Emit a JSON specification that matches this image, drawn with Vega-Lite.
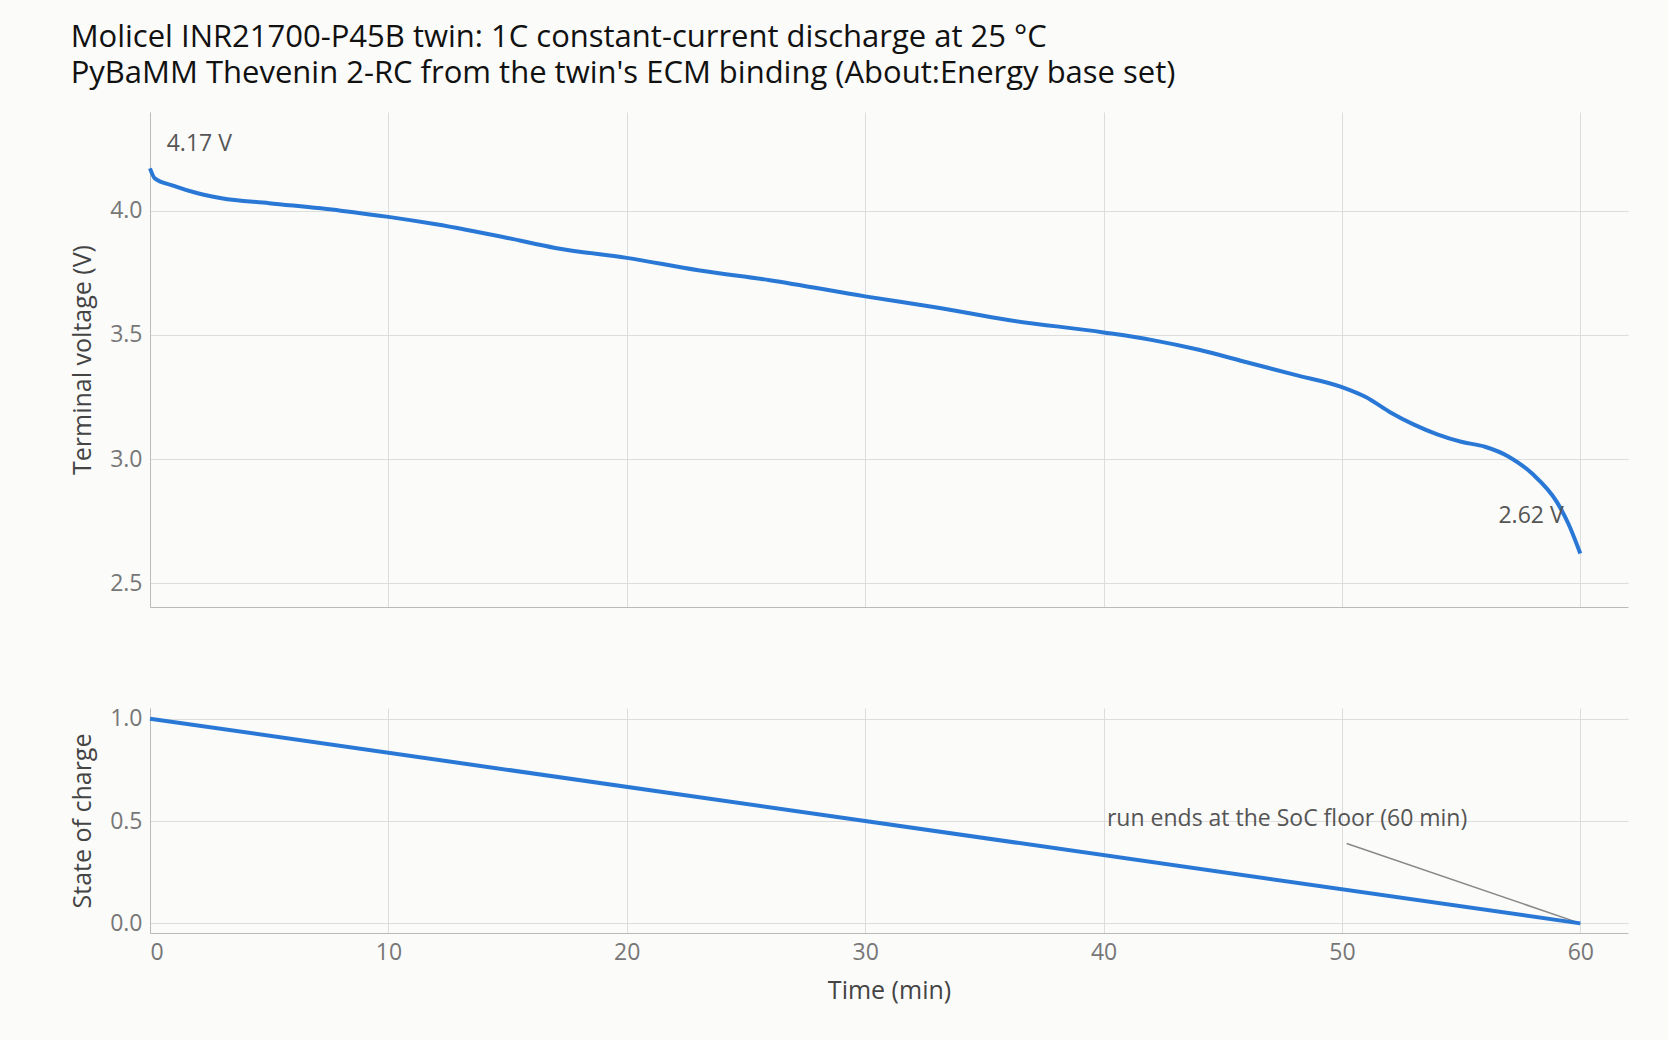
{
  "$schema": "https://vega.github.io/schema/vega-lite/v6.json",
  "background": "#fbfbfa",
  "padding": {"left": 70, "top": 22, "right": 40, "bottom": 40},
  "title": {
    "text": ["Molicel INR21700-P45B twin: 1C constant-current discharge at 25 °C", "PyBaMM Thevenin 2-RC from the twin's ECM binding (About:Energy base set)"],
    "anchor": "start", "fontSize": 31, "fontWeight": "normal", "font": "Open Sans", "color": "#111", "offset": 22, "lineHeight": 36
  },
  "config": {
    "font": "Open Sans",
    "view": {"stroke": null},
    "axis": {"gridColor": "#dddddd", "domainColor": "#bbbbbb", "ticks": false, "labelColor": "#777", "titleColor": "#444", "labelFontSize": 23, "titleFontSize": 25, "titleFontWeight": "normal", "labelPadding": 8, "titlePadding": 14}
  },
  "spacing": 100,
  "datasets": {
    "v": [
      {"t": 0, "v": 4.17}, {"t": 0.2, "v": 4.13}, {"t": 1, "v": 4.1}, {"t": 2, "v": 4.07}, {"t": 3, "v": 4.05},
      {"t": 5, "v": 4.03}, {"t": 8, "v": 4.0}, {"t": 10, "v": 3.975}, {"t": 12, "v": 3.945}, {"t": 15, "v": 3.89},
      {"t": 17, "v": 3.85}, {"t": 20, "v": 3.81}, {"t": 23, "v": 3.76}, {"t": 26, "v": 3.72}, {"t": 30, "v": 3.655},
      {"t": 33, "v": 3.61}, {"t": 36, "v": 3.56}, {"t": 40, "v": 3.51}, {"t": 42, "v": 3.48}, {"t": 44, "v": 3.44},
      {"t": 46, "v": 3.39}, {"t": 48, "v": 3.34}, {"t": 50, "v": 3.29}, {"t": 51, "v": 3.25}, {"t": 52, "v": 3.19},
      {"t": 53, "v": 3.14}, {"t": 54, "v": 3.1}, {"t": 55, "v": 3.07}, {"t": 56, "v": 3.05}, {"t": 57, "v": 3.01},
      {"t": 58, "v": 2.94}, {"t": 59, "v": 2.83}, {"t": 59.5, "v": 2.74}, {"t": 60, "v": 2.62}
    ],
    "soc": [{"t": 0, "s": 1.0}, {"t": 60, "s": 0.0}]
  },
  "vconcat": [
    {
      "width": 1478, "height": 495,
      "layer": [
        {
          "data": {"name": "v"},
          "mark": {"type": "line", "color": "#2a78d6", "strokeWidth": 4, "interpolate": "monotone"},
          "encoding": {
            "x": {"field": "t", "type": "quantitative", "scale": {"domain": [0, 62], "nice": false}, "axis": {"labels": false, "title": null, "values": [0, 10, 20, 30, 40, 50, 60]}},
            "y": {"field": "v", "type": "quantitative", "scale": {"domain": [2.405, 4.397], "nice": false, "zero": false}, "axis": {"title": "Terminal voltage (V)", "values": [2.5, 3.0, 3.5, 4.0], "format": ".1f"}}
          }
        },
        {
          "data": {"values": [{"t": 0.7, "v": 4.27, "label": "4.17 V"}]},
          "mark": {"type": "text", "fontSize": 23, "color": "#555", "baseline": "middle", "align": "left"},
          "encoding": {
            "x": {"field": "t", "type": "quantitative"},
            "y": {"field": "v", "type": "quantitative"},
            "text": {"field": "label"}
          }
        },
        {
          "data": {"values": [{"t": 59.3, "v": 2.77, "label": "2.62 V"}]},
          "mark": {"type": "text", "fontSize": 23, "color": "#555", "baseline": "middle", "align": "right"},
          "encoding": {
            "x": {"field": "t", "type": "quantitative"},
            "y": {"field": "v", "type": "quantitative"},
            "text": {"field": "label"}
          }
        }
      ]
    },
    {
      "width": 1478, "height": 225,
      "layer": [
        {
          "data": {"values": [{"t": 50.2, "s": 0.39, "t2": 60, "s2": 0}]},
          "mark": {"type": "rule", "color": "#888", "strokeWidth": 1.5},
          "encoding": {
            "x": {"field": "t", "type": "quantitative"},
            "y": {"field": "s", "type": "quantitative"},
            "x2": {"field": "t2"},
            "y2": {"field": "s2"}
          }
        },
        {
          "data": {"name": "soc"},
          "mark": {"type": "line", "color": "#2a78d6", "strokeWidth": 4},
          "encoding": {
            "x": {"field": "t", "type": "quantitative", "scale": {"domain": [0, 62], "nice": false}, "axis": {"title": "Time (min)", "values": [0, 10, 20, 30, 40, 50, 60]}},
            "y": {"field": "s", "type": "quantitative", "scale": {"domain": [-0.047, 1.052], "nice": false}, "axis": {"title": "State of charge", "values": [0, 0.5, 1.0], "format": ".1f"}}
          }
        },
        {
          "data": {"values": [{"t": 47.7, "s": 0.51, "label": "run ends at the SoC floor (60 min)"}]},
          "mark": {"type": "text", "fontSize": 23, "color": "#555", "baseline": "middle", "align": "center"},
          "encoding": {
            "x": {"field": "t", "type": "quantitative"},
            "y": {"field": "s", "type": "quantitative"},
            "text": {"field": "label"}
          }
        }
      ]
    }
  ]
}
